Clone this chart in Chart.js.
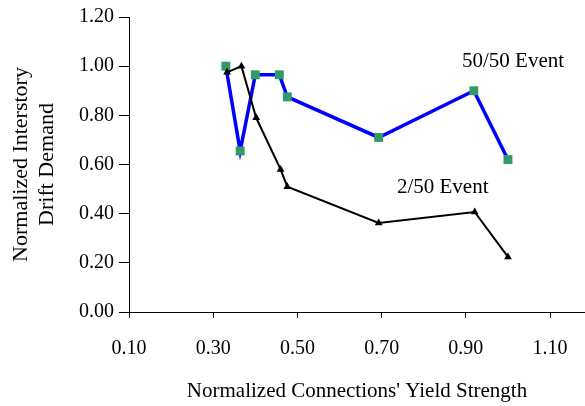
<!DOCTYPE html>
<html>
<head>
<meta charset="utf-8">
<script src="https://cdn.jsdelivr.net/npm/chart.js@4.4.1/dist/chart.umd.min.js"></script>
<style>
html,body{margin:0;padding:0;background:#fff;}
#wrap{width:585px;height:406px;}
</style>
</head>
<body>
<div id="wrap"><canvas id="c" width="585" height="406"></canvas></div>
<script>
const strength5050 = [0.33, 0.364, 0.40, 0.457, 0.476, 0.693, 0.919, 1.00];
const drift5050    = [1.00, 0.655, 0.965, 0.965, 0.875, 0.71, 0.90, 0.62];
const strength250  = [0.333, 0.367, 0.402, 0.46, 0.476, 0.693, 0.921, 1.00];
const drift250     = [0.975, 1.00, 0.79, 0.58, 0.51, 0.362, 0.407, 0.224];
const xTickValues  = [0.10, 0.30, 0.50, 0.70, 0.90, 1.10];
const yTickValues  = [0.00, 0.20, 0.40, 0.60, 0.80, 1.00, 1.20];
const seriesNames  = ['50/50 Event', '2/50 Event'];
const labelAnchors = [[1.012, 1.02], [0.845, 0.508]];
const xTitle = "Normalized Connections' Yield Strength";
const yTitle = ['Normalized Interstory', 'Drift Demand'];

const FONT = "'Liberation Serif', 'Times New Roman', serif";

const seriesLabels = {
  id: 'seriesLabels',
  afterDatasetsDraw(chart) {
    const {ctx, scales: {x, y}} = chart;
    ctx.save();
    ctx.font = '21px ' + FONT;
    ctx.fillStyle = '#000';
    ctx.textAlign = 'center';
    ctx.textBaseline = 'middle';
    seriesNames.forEach((n, i) => {
      ctx.fillText(n, x.getPixelForValue(labelAnchors[i][0]), y.getPixelForValue(labelAnchors[i][1]));
    });
    ctx.restore();
  }
};

new Chart(document.getElementById('c'), {
  type: 'scatter',
  data: {
    datasets: [
      {
        label: seriesNames[0],
        data: strength5050.map((v, i) => ({x: v, y: drift5050[i]})),
        showLine: true,
        borderColor: '#0000ff',
        borderWidth: 3.5,
        pointStyle: 'rect',
        pointRadius: 6.3,
        pointBackgroundColor: '#339966',
        pointBorderColor: '#339966',
        pointBorderWidth: 0,
        order: 1
      },
      {
        label: seriesNames[1],
        data: strength250.map((v, i) => ({x: v, y: drift250[i]})),
        showLine: true,
        borderColor: '#000000',
        borderWidth: 2,
        pointStyle: 'triangle',
        pointRadius: 4.5,
        pointBackgroundColor: '#000',
        pointBorderColor: '#000',
        pointBorderWidth: 0,
        order: 0
      }
    ]
  },
  options: {
    responsive: false,
    animation: false,
    layout: {autoPadding: false, padding: {top: 17, right: 0, bottom: 0, left: 0}},
    plugins: {legend: {display: false}, tooltip: {enabled: false}},
    scales: {
      x: {
        type: 'linear',
        min: 0.10,
        max: 1.183,
        afterBuildTicks(scale) { scale.ticks = xTickValues.map(v => ({value: v})); },
        afterFit(scale) { scale.height = 94; scale.paddingRight = 0; scale.paddingLeft = 0; },
        grid: {drawOnChartArea: false, drawTicks: true, tickLength: 6, color: '#000'},
        border: {display: true, color: '#000', width: 1},
        ticks: {
          color: '#000', font: {family: FONT, size: 20}, padding: 19, maxRotation: 0,
          callback: v => v.toFixed(2)
        },
        title: {display: true, text: xTitle, color: '#000', font: {family: FONT, size: 21, lineHeight: 1.2}, padding: {top: 0, bottom: 2}}
      },
      y: {
        type: 'linear',
        min: 0,
        max: 1.2,
        afterBuildTicks(scale) { scale.ticks = yTickValues.map(v => ({value: v})); },
        afterFit(scale) { scale.width = 129; },
        grid: {drawOnChartArea: false, drawTicks: true, tickLength: 10, color: '#000'},
        border: {display: true, color: '#000', width: 1},
        ticks: {
          color: '#000', font: {family: FONT, size: 20}, padding: 5,
          callback: v => v.toFixed(2)
        },
        title: {display: true, text: yTitle, color: '#000', font: {family: FONT, size: 22, lineHeight: 1.15}, padding: {top: 9, bottom: 0}}
      }
    }
  },
  plugins: [seriesLabels]
});
</script>
</body>
</html>
